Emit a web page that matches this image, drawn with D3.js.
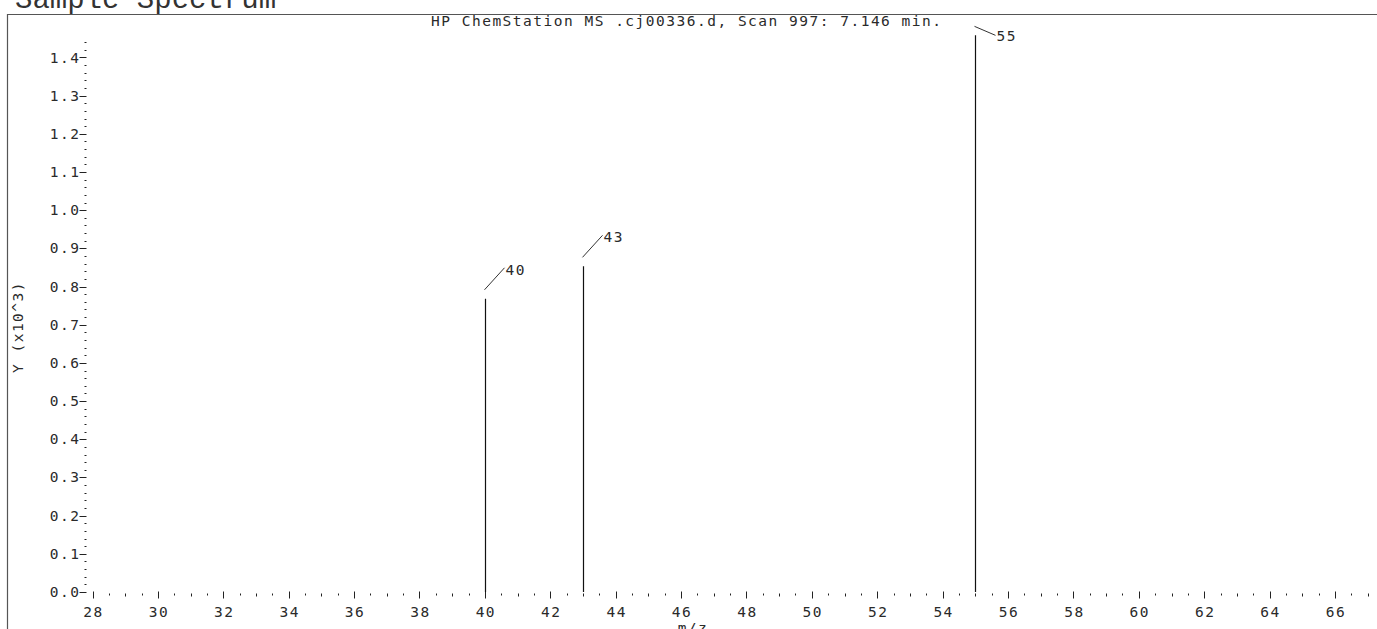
<!DOCTYPE html>
<html>
<head>
<meta charset="utf-8">
<script src="https://cdn.jsdelivr.net/npm/d3@7"></script>
<style>
  html, body { margin: 0; padding: 0; background: #fff; }
  svg { display: block; }
  .plot-text { font-family: "DejaVu Sans Mono", monospace; font-size: 14.5px; letter-spacing: 1.5px; fill: #2a2a2a; }
</style>
</head>
<body>
<svg id="chart" width="1377" height="629"></svg>
<script>
// Mass spectrum: m/z of each peak and its abundance (thousands of counts)
const peakMz = [40, 43, 55];
const peakAbundance = [0.768, 0.853, 1.458];

// Axis ticks
const xTickLabels = d3.range(28, 67, 2);              // 28, 30, ... 66
const yTickLabels = d3.range(0, 15).map(i => i / 10); // 0.0 ... 1.4

const titleText = "Sample Spectrum";
const headerText = "HP ChemStation MS .cj00336.d, Scan 997: 7.146 min.";
const xAxisTitle = "m/z";
const yAxisTitle = "Y (x10^3)";

const W = 1377, H = 629;
const svg = d3.select("#chart");

const x = d3.scaleLinear().domain([28, 66]).range([92.5, 1335]);
const y = d3.scaleLinear().domain([0, 1.4]).range([592, 57.5]);

// Page title (runs off the top edge of the sheet)
svg.append("text")
  .attr("x", 15).attr("y", 8)
  .style("font-family", "'Liberation Mono', 'Courier New', monospace")
  .style("font-size", "29px")
  .style("fill", "#333")
  .text(titleText);

// Frame
svg.append("path")
  .attr("d", `M7.5,${H} V14.5 H${W}`)
  .attr("fill", "none")
  .attr("stroke", "#555")
  .attr("stroke-width", 1.2);

// Header line
svg.append("text")
  .attr("class", "plot-text")
  .attr("x", 431).attr("y", 26)
  .text(headerText);

// ---- Y axis: ticks every 0.02, labelled every 0.1
const yAxisX = 86.5;
const yMinor = d3.range(0, 73).map(i => i * 0.02).filter(v => v <= 1.445);
svg.append("g").selectAll("line")
  .data(yMinor)
  .join("line")
  .attr("x1", d => Math.abs(d * 10 - Math.round(d * 10)) < 1e-6 ? yAxisX - 7 : yAxisX - 2)
  .attr("x2", yAxisX)
  .attr("y1", d => Math.round(y(d)) + 0.5)
  .attr("y2", d => Math.round(y(d)) + 0.5)
  .attr("stroke", "#222")
  .attr("stroke-width", 1);

svg.append("g").selectAll("text")
  .data(yTickLabels)
  .join("text")
  .attr("class", "plot-text")
  .attr("x", yAxisX - 6)
  .attr("y", d => y(d) + 5)
  .attr("text-anchor", "end")
  .text(d => d3.format(".1f")(d));

// ---- X axis: ticks every 0.5, labelled every 2
const xAxisY = 592.5;
const xMinor = d3.range(28, 67.01, 0.5);
svg.append("g").selectAll("line")
  .data(xMinor)
  .join("line")
  .attr("x1", d => Math.round(x(d)) + 0.5)
  .attr("x2", d => Math.round(x(d)) + 0.5)
  .attr("y1", d => d % 2 === 0 ? xAxisY - 1 : xAxisY + 1)
  .attr("y2", d => d % 2 === 0 ? xAxisY + 6 : (d % 1 === 0 ? xAxisY + 4 : xAxisY + 3))
  .attr("stroke", "#222")
  .attr("stroke-width", 1);

svg.append("g").selectAll("text")
  .data(xTickLabels)
  .join("text")
  .attr("class", "plot-text")
  .attr("x", d => x(d) + 1)
  .attr("y", 617)
  .attr("text-anchor", "middle")
  .text(d => d);

// Axis titles
svg.append("text")
  .attr("class", "plot-text")
  .attr("x", 693).attr("y", 633)
  .attr("text-anchor", "middle")
  .text(xAxisTitle);

svg.append("text")
  .attr("class", "plot-text")
  .attr("transform", "translate(23,327) rotate(-90)")
  .attr("text-anchor", "middle")
  .text(yAxisTitle);

// ---- Peaks as sticks from the baseline
const peaks = peakMz.map((m, i) => ({ mz: m, ab: peakAbundance[i] }));

svg.append("g").selectAll("line")
  .data(peaks)
  .join("line")
  .attr("x1", d => Math.round(x(d.mz)) + 0.5)
  .attr("x2", d => Math.round(x(d.mz)) + 0.5)
  .attr("y1", y(0))
  .attr("y2", d => y(d.ab))
  .attr("stroke", "#111")
  .attr("stroke-width", 1.2);

// Peak labels with leader lines; near the top edge the leader slopes down
const labelG = svg.append("g");
peaks.forEach(d => {
  const px = Math.round(x(d.mz)) + 0.5;
  const top = y(d.ab);
  const nearTop = top < 60;
  let x1, y1, x2, y2, tx, ty;
  if (nearTop) {
    x1 = px - 1; y1 = top - 9;
    x2 = px + 20; y2 = top;
    tx = x2 + 1; ty = top + 6;
  } else {
    x1 = px - 1; y1 = top - 9;
    x2 = px + 19; y2 = top - 31;
    tx = x2 + 1; ty = top - 24;
  }
  labelG.append("line")
    .attr("x1", x1).attr("y1", y1).attr("x2", x2).attr("y2", y2)
    .attr("stroke", "#333").attr("stroke-width", 1);
  labelG.append("text")
    .attr("class", "plot-text")
    .attr("x", tx).attr("y", ty)
    .text(d.mz);
});
</script>
</body>
</html>
